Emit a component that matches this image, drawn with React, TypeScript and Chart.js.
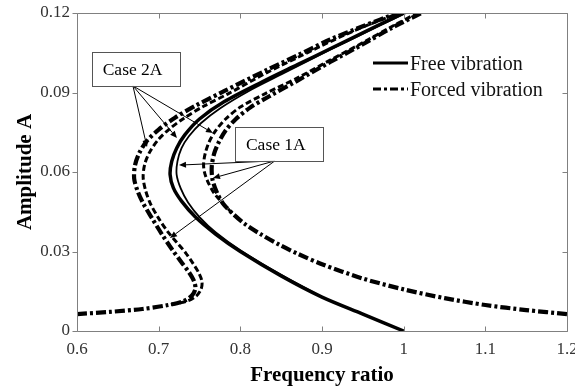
import { useEffect, useRef } from "react";
import { Chart, registerables } from "chart.js";

Chart.register(...registerables);

const FONT = "'Liberation Serif', 'Times New Roman', serif";

// Axis ticks
const xTickValues = [0.6, 0.7, 0.8, 0.9, 1.0, 1.1, 1.2];
const xTickLabels = ["0.6", "0.7", "0.8", "0.9", "1", "1.1", "1.2"];
const yTickValues = [0, 0.03, 0.06, 0.09, 0.12];
const yTickLabels = ["0", "0.03", "0.06", "0.09", "0.12"];

const legendLabels = ["Free vibration", "Forced vibration"];

// Free vibration (thick solid)
const freeA_x = [1.0, 0.95, 0.9, 0.85, 0.8, 0.77, 0.745, 0.728, 0.718, 0.714, 0.716, 0.722, 0.732, 0.75, 0.78, 0.83, 0.87, 0.91, 0.95, 1.0];
const freeA_y = [0, 0.0064, 0.0128, 0.0208, 0.03, 0.0365, 0.043, 0.049, 0.054, 0.059, 0.064, 0.069, 0.074, 0.08, 0.0865, 0.0945, 0.1005, 0.1065, 0.1125, 0.12];

// Free vibration (thin solid)
const freeB_x = [0.9, 0.85, 0.8, 0.77, 0.75, 0.736, 0.727, 0.722, 0.723, 0.728, 0.737, 0.752, 0.775, 0.81, 0.85, 0.89, 0.93, 0.97, 1.003];
const freeB_y = [0.0128, 0.0212, 0.0305, 0.0372, 0.043, 0.0485, 0.0538, 0.059, 0.064, 0.069, 0.0735, 0.0785, 0.084, 0.0905, 0.0968, 0.103, 0.1092, 0.1152, 0.12];

// Forced vibration, outer branch (dash-dot)
const forcedOuterA_x = [0.6, 0.64, 0.68, 0.71, 0.73, 0.741, 0.745, 0.743, 0.737, 0.729, 0.717, 0.704, 0.692, 0.681, 0.674, 0.67, 0.671, 0.676, 0.685, 0.7, 0.72, 0.745, 0.78, 0.8325, 0.87, 0.91, 0.95, 0.992];
const forcedOuterA_y = [0.0064, 0.0072, 0.0083, 0.0097, 0.0112, 0.0135, 0.016, 0.019, 0.0222, 0.0255, 0.0305, 0.0365, 0.0425, 0.0482, 0.053, 0.0575, 0.0625, 0.067, 0.0715, 0.076, 0.0805, 0.085, 0.0905, 0.0985, 0.104, 0.11, 0.115, 0.12];

// Forced vibration, outer branch (dashed)
const forcedOuterB_x = [0.715, 0.735, 0.746, 0.752, 0.753, 0.749, 0.742, 0.733, 0.722, 0.711, 0.7, 0.69, 0.684, 0.681, 0.683, 0.689, 0.699, 0.713, 0.731, 0.755, 0.785, 0.8325, 0.87, 0.91, 0.95, 0.995];
const forcedOuterB_y = [0.01, 0.0113, 0.0132, 0.0158, 0.0187, 0.022, 0.0255, 0.0295, 0.0335, 0.0375, 0.0425, 0.048, 0.053, 0.058, 0.063, 0.0675, 0.072, 0.0762, 0.0803, 0.0848, 0.0895, 0.0975, 0.1032, 0.1092, 0.1147, 0.12];

// Forced vibration, inner branch (dash-dot)
const forcedInnerA_x = [1.2, 1.15, 1.1, 1.05, 1.0, 0.95, 0.9, 0.87, 0.848, 0.825, 0.805, 0.79, 0.779, 0.771, 0.766, 0.765, 0.768, 0.774, 0.782, 0.794, 0.812, 0.835, 0.87, 0.91, 0.95, 0.985, 1.022];
const forcedInnerA_y = [0.0064, 0.0079, 0.0098, 0.0124, 0.0157, 0.0198, 0.0252, 0.0292, 0.0325, 0.0365, 0.0405, 0.0445, 0.048, 0.0525, 0.057, 0.062, 0.067, 0.0715, 0.0757, 0.0798, 0.0843, 0.0885, 0.0945, 0.1015, 0.1082, 0.1143, 0.12];

// Forced vibration, inner branch (dashed)
const forcedInnerB_x = [0.79, 0.779, 0.768, 0.76, 0.756, 0.755, 0.757, 0.762, 0.77, 0.782, 0.8, 0.83, 0.87, 0.91, 0.95, 0.985, 1.017];
const forcedInnerB_y = [0.0445, 0.048, 0.052, 0.0565, 0.06, 0.063, 0.067, 0.0715, 0.0757, 0.08, 0.0845, 0.0895, 0.0955, 0.1022, 0.1088, 0.1148, 0.12];

// Callout boxes (data coordinates)
const caseLabels = ["Case 2A", "Case 1A"];
const caseBoxX = [[0.618, 0.726], [0.7934, 0.9011]];
const caseBoxY = [[0.1053, 0.0925], [0.077, 0.0642]];
const caseArrowFrom = [[0.6685, 0.0925], [0.8423, 0.0642]];
const caseArrowTips = [
  [[0.6857, 0.0694], [0.7224, 0.0728], [0.7665, 0.0747]],
  [[0.7249, 0.0626], [0.7665, 0.0577], [0.7138, 0.0351]],
];

const DASH_DOT = [10, 3, 3, 3];
const DASH = [6, 3];

const pts = (xs: number[], ys: number[]) => xs.map((x, i) => ({ x, y: ys[i] }));

const overlayPlugin = {
  id: "overlay",
  afterDatasetsDraw(chart: any) {
    const { ctx, chartArea: a, scales } = chart;
    const sx = scales.x;
    const sy = scales.y;
    ctx.save();
    ctx.setLineDash([]);
    // frame
    const L = Math.floor(a.left) + 0.5;
    const R = Math.floor(a.right) + 0.5;
    const T = Math.floor(a.top) + 0.5;
    const B = Math.floor(a.bottom) + 0.5;
    ctx.strokeStyle = "#808080";
    ctx.lineWidth = 1;
    ctx.beginPath();
    ctx.rect(L, T, R - L, B - T);
    ctx.stroke();
    ctx.beginPath();
    yTickValues.forEach((v) => {
      const p = Math.round(sy.getPixelForValue(v)) + 0.5;
      ctx.moveTo(L - 5, p);
      ctx.lineTo(L, p);
      ctx.moveTo(R - 5, p);
      ctx.lineTo(R, p);
    });
    xTickValues.forEach((v) => {
      const p = Math.round(sx.getPixelForValue(v)) + 0.5;
      ctx.moveTo(p, B);
      ctx.lineTo(p, B - 5);
      ctx.moveTo(p, T);
      ctx.lineTo(p, T + 5);
    });
    ctx.stroke();

    // callouts
    caseLabels.forEach((label, i) => {
      const x0 = sx.getPixelForValue(caseBoxX[i][0]);
      const x1 = sx.getPixelForValue(caseBoxX[i][1]);
      const y0 = sy.getPixelForValue(caseBoxY[i][0]);
      const y1 = sy.getPixelForValue(caseBoxY[i][1]);
      const ox = sx.getPixelForValue(caseArrowFrom[i][0]);
      const oy = sy.getPixelForValue(caseArrowFrom[i][1]);
      ctx.strokeStyle = "#000";
      ctx.fillStyle = "#000";
      ctx.lineWidth = 1;
      caseArrowTips[i].forEach(([tx, ty]) => {
        const px = sx.getPixelForValue(tx);
        const py = sy.getPixelForValue(ty);
        const ang = Math.atan2(py - oy, px - ox);
        const hl = 7;
        const hw = 3;
        const bx = px - hl * Math.cos(ang);
        const by = py - hl * Math.sin(ang);
        ctx.beginPath();
        ctx.moveTo(ox, oy);
        ctx.lineTo(bx, by);
        ctx.stroke();
        ctx.beginPath();
        ctx.moveTo(px, py);
        ctx.lineTo(bx + hw * Math.sin(ang), by - hw * Math.cos(ang));
        ctx.lineTo(bx - hw * Math.sin(ang), by + hw * Math.cos(ang));
        ctx.closePath();
        ctx.fill();
      });
      ctx.fillStyle = "#fff";
      ctx.fillRect(x0, y0, x1 - x0, y1 - y0);
      ctx.strokeStyle = "#555";
      ctx.strokeRect(Math.round(x0) + 0.5, Math.round(y0) + 0.5, Math.round(x1 - x0), Math.round(y1 - y0));
      ctx.fillStyle = "#000";
      ctx.font = `17.5px ${FONT}`;
      ctx.textAlign = "left";
      ctx.textBaseline = "middle";
      ctx.fillText(label, x0 + 11, (y0 + y1) / 2 + 1);
    });

    // legend
    const lx0 = 373;
    const lx1 = 408;
    const rows = [63, 89];
    ctx.font = `20px ${FONT}`;
    ctx.textAlign = "left";
    ctx.textBaseline = "alphabetic";
    legendLabels.forEach((label, i) => {
      ctx.strokeStyle = "#000";
      ctx.lineWidth = 3;
      ctx.setLineDash(i === 0 ? [] : [8, 3, 3, 3]);
      ctx.beginPath();
      ctx.moveTo(lx0, rows[i]);
      ctx.lineTo(lx1, rows[i]);
      ctx.stroke();
      ctx.setLineDash([]);
      ctx.fillStyle = "#111";
      ctx.fillText(label, lx1 + 2, rows[i] + 7);
    });
    ctx.restore();
  },
};

export default function App() {
  const ref = useRef<HTMLCanvasElement | null>(null);
  useEffect(() => {
    if (!ref.current) return;
    const line = (label: string, xs: number[], ys: number[], width: number, dash: number[]) => ({
      label,
      data: pts(xs, ys),
      showLine: true,
      pointRadius: 0,
      borderColor: "#000",
      backgroundColor: "#000",
      borderWidth: width,
      borderDash: dash,
      borderCapStyle: "butt",
      tension: 0.3,
      fill: false,
    });
    const chart = new Chart(ref.current, {
      type: "scatter",
      data: {
        datasets: [
          line("Forced vibration", forcedOuterB_x, forcedOuterB_y, 3, DASH),
          line("Forced vibration", forcedInnerB_x, forcedInnerB_y, 3, DASH),
          line("Forced vibration", forcedOuterA_x, forcedOuterA_y, 4.2, DASH_DOT),
          line("Forced vibration", forcedInnerA_x, forcedInnerA_y, 4.2, DASH_DOT),
          line("Free vibration", freeB_x, freeB_y, 1.8, []),
          line("Free vibration", freeA_x, freeA_y, 3.5, []),
        ] as any,
      },
      options: {
        responsive: false,
        animation: false,
        layout: { padding: { left: 0, right: 8, top: 13, bottom: 0 } },
        plugins: { legend: { display: false }, tooltip: { enabled: false }, title: { display: false } },
        scales: {
          x: {
            type: "linear",
            min: 0.6,
            max: 1.2,
            afterBuildTicks: (s: any) => {
              s.ticks = xTickValues.map((v) => ({ value: v }));
            },
            afterFit: (s: any) => {
              s.height = 57;
              s.paddingLeft = 0;
              s.paddingRight = 0;
            },
            grid: { display: false, drawTicks: false },
            border: { display: false },
            ticks: {
              autoSkip: false,
              maxRotation: 0,
              padding: 8,
              color: "#333",
              font: { family: FONT, size: 17 },
              callback: (_v: any, i: number) => xTickLabels[i],
            },
            title: {
              display: true,
              text: "Frequency ratio",
              color: "#000",
              font: { family: FONT, size: 21, weight: "bold" },
              padding: { top: 0, bottom: 0 },
            },
          },
          y: {
            type: "linear",
            min: 0,
            max: 0.12,
            afterBuildTicks: (s: any) => {
              s.ticks = yTickValues.map((v) => ({ value: v }));
            },
            afterFit: (s: any) => {
              s.width = 77;
              s.paddingTop = 0;
              s.paddingBottom = 0;
            },
            grid: { display: false, drawTicks: false },
            border: { display: false },
            ticks: {
              padding: 7,
              color: "#333",
              font: { family: FONT, size: 17 },
              callback: (_v: any, i: number) => yTickLabels[i],
            },
            title: {
              display: true,
              text: "Amplitude A",
              color: "#000",
              font: { family: FONT, size: 21, weight: "bold" },
              padding: { top: 13, bottom: 0 },
            },
          },
        },
      },
      plugins: [overlayPlugin],
    } as any);
    return () => chart.destroy();
  }, []);
  return (
    <div style={{ position: "fixed", left: 0, top: 0, width: 575, height: 388, background: "#fff" }}>
      <canvas ref={ref} width={575} height={388} style={{ display: "block" }} />
    </div>
  );
}
